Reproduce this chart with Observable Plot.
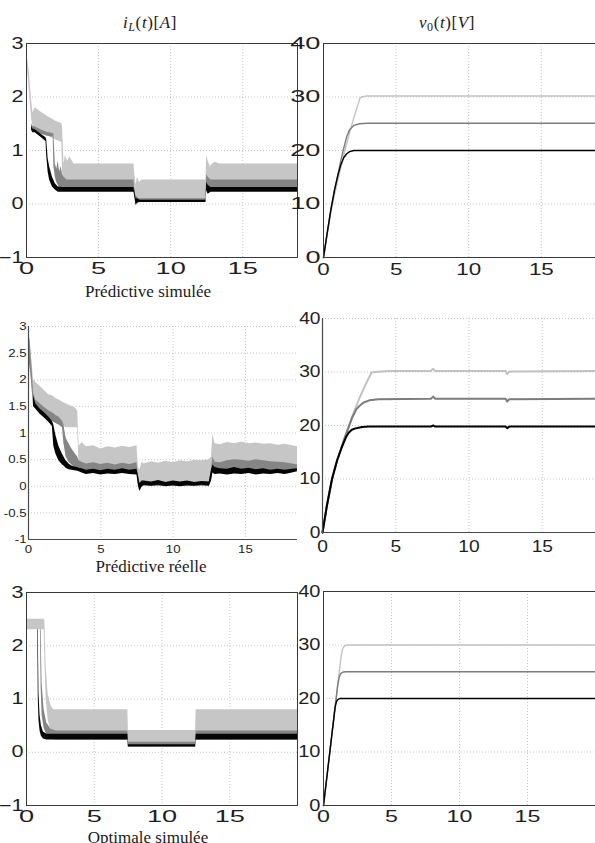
<!DOCTYPE html>
<html>
<head>
<meta charset="utf-8">
<script src="https://cdn.jsdelivr.net/npm/d3@7"></script>
<script src="https://cdn.jsdelivr.net/npm/@observablehq/plot@0.6"></script>
<style>
  body { margin: 0; background: #fff; }
  #fig { position: relative; width: 595px; height: 843px; overflow: hidden; background: #fff; }
  .panel { position: absolute; }
  .panel svg { overflow: visible; max-width: none; }
  .ttl, .lbl { position: absolute; white-space: nowrap; line-height: 1; color: #1a1a1a;
               font-family: "Liberation Serif", "Times New Roman", "DejaVu Serif", serif; transform: translateX(-50%); }
  .ttl { font-size: 17px; letter-spacing: 0.6px; }
  .lbl { font-size: 17px; }
  .ttl sub { font-size: 12px; vertical-align: -3px; }
</style>
</head>
<body>
<div id="fig"></div>
<script>
// ---------- axis ticks ----------
const ampTicks = [-1, 0, 1, 2, 3];
const ampTicksFine = [-1, -0.5, 0, 0.5, 1, 1.5, 2, 2.5, 3];
const voltTicks = [0, 10, 20, 30, 40];
const timeTicks = [0, 5, 10, 15];

// ---------- Prédictive simulée : inductor current bands (lower / upper ripple envelope) ----------
const simI30_t  = [0.02, 0.08, 0.2, 0.35, 0.45, 0.6, 1.0, 1.5, 2.0, 2.45, 2.5, 2.6, 2.7, 2.85, 3.0, 3.3, 7.45, 7.5, 7.6, 7.7, 7.85, 8.0, 8.3, 12.45, 12.5, 12.6, 12.75, 12.9, 13.1, 13.4, 18.8];
const simI30_lo = [1.0, 2.5, 2.1, 1.6, 1.45, 1.4, 1.33, 1.27, 1.2, 1.15, 0.6, 0.4, 0.3, 0.28, 0.27, 0.27, 0.27, 0.2, -0.05, 0.0, 0.05, 0.05, 0.05, 0.05, 0.3, 0.35, 0.25, 0.27, 0.27, 0.27, 0.27];
const simI30_hi = [1.0, 2.75, 2.45, 1.95, 1.7, 1.8, 1.72, 1.63, 1.55, 1.5, 1.45, 0.75, 0.9, 0.8, 0.88, 0.75, 0.75, 0.6, 0.35, 0.5, 0.4, 0.45, 0.45, 0.45, 0.9, 0.8, 0.7, 0.75, 0.78, 0.75, 0.75];

const simI25_t  = [0.35, 0.45, 0.6, 1.0, 1.4, 1.85, 1.9, 2.0, 2.1, 2.2, 2.3, 2.4, 2.5, 2.6, 2.8, 3.0, 7.45, 7.5, 7.6, 7.8, 8.0, 12.45, 12.5, 12.6, 12.8, 13.0, 18.8];
const simI25_lo = [1.42, 1.36, 1.36, 1.31, 1.27, 1.25, 0.7, 0.5, 0.4, 0.35, 0.3, 0.3, 0.28, 0.27, 0.27, 0.27, 0.27, 0.2, -0.02, 0.03, 0.05, 0.05, 0.3, 0.2, 0.25, 0.27, 0.27];
const simI25_hi = [1.5, 1.45, 1.44, 1.39, 1.34, 1.32, 1.3, 0.75, 0.65, 0.8, 0.6, 0.7, 0.55, 0.5, 0.45, 0.45, 0.45, 0.3, 0.15, 0.1, 0.1, 0.1, 0.55, 0.5, 0.45, 0.45, 0.45];

const simI20_t  = [0.35, 0.45, 0.6, 1.0, 1.35, 1.4, 1.5, 1.6, 1.8, 2.0, 2.2, 2.5, 7.45, 7.5, 7.6, 7.7, 7.9, 12.45, 12.5, 12.6, 12.8, 18.8];
const simI20_lo = [1.38, 1.33, 1.33, 1.25, 1.17, 0.9, 0.6, 0.45, 0.32, 0.26, 0.22, 0.22, 0.22, 0.15, -0.02, 0.02, 0.03, 0.03, 0.25, 0.18, 0.22, 0.22];
const simI20_hi = [1.45, 1.4, 1.39, 1.31, 1.24, 1.2, 0.85, 0.7, 0.5, 0.38, 0.32, 0.31, 0.31, 0.25, 0.1, 0.1, 0.07, 0.07, 0.4, 0.35, 0.31, 0.31];

// ---------- Prédictive simulée : output voltage ----------
const simV20_t = [0, 0.25, 0.5, 0.75, 1.0, 1.2, 1.4, 1.6, 1.8, 2.1, 2.5, 18.8];
const simV20_v = [0, 4.5, 8.8, 12.5, 15.5, 17.4, 18.7, 19.4, 19.8, 20.0, 20.0, 20.0];
const simV25_t = [0, 0.25, 0.5, 0.75, 1.0, 1.2, 1.4, 1.6, 1.8, 2.1, 2.5, 3.0, 18.8];
const simV25_v = [0, 4.5, 8.8, 12.5, 15.6, 18.2, 20.5, 22.6, 23.9, 24.7, 25.0, 25.1, 25.1];
const simV30_t = [0, 0.25, 0.5, 0.75, 1.0, 1.5, 2.0, 2.5, 2.6, 3.0, 18.8];
const simV30_v = [0, 4.2, 8.2, 11.6, 14.6, 20.3, 25.3, 29.7, 30.0, 30.2, 30.2];

// ---------- Prédictive réelle : measured current envelopes on a common time base ----------
const realT = [0.05, 0.1, 0.2, 0.35, 0.5, 0.8, 1.1, 1.4, 1.65, 1.75, 1.9, 2.1, 2.35, 2.45, 2.6, 2.8, 3.0, 3.2, 3.4,
               3.5, 3.7, 4.0, 4.5, 5.0, 5.5, 6.0, 6.5, 7.0, 7.5,
               7.6,
               7.7, 7.85, 8.0, 8.5, 9.0, 9.5, 10.0, 10.5, 11.0, 11.5, 12.0, 12.5,
               12.65,
               12.75, 12.9, 13.25, 13.75, 14.25, 14.75, 15.25, 15.75, 16.25, 16.75, 17.25, 17.75, 18.25, 18.6];
const realI30_lo = [2.0, 2.3, 2.0, 1.5, 1.45, 1.4, 1.35, 1.3, 1.27, 1.25, 1.22, 1.2, 1.15, 1.12, 1.1, 1.1, 1.1, 1.1, 1.1,
                    0.35, 0.3, 0.3, 0.3, 0.3, 0.3, 0.3, 0.3, 0.3, 0.3,
                    0.1,
                    0.0, 0.0, 0.0, 0.0, 0.0, 0.0, 0.0, 0.0, 0.0, 0.0, 0.0, 0.0,
                    0.1,
                    0.3, 0.3, 0.3, 0.3, 0.3, 0.3, 0.3, 0.3, 0.3, 0.3, 0.3, 0.3, 0.3, 0.3];
const realI30_hi = [2.8, 2.75, 2.45, 2.0, 1.95, 1.88, 1.8, 1.72, 1.7, 1.68, 1.65, 1.62, 1.58, 1.57, 1.55, 1.52, 1.5, 1.48, 1.42,
                    0.75, 0.82, 0.74, 0.76, 0.7, 0.74, 0.72, 0.75, 0.73, 0.76,
                    0.35,
                    0.3, 0.45, 0.42, 0.46, 0.43, 0.47, 0.44, 0.48, 0.46, 0.49, 0.48, 0.5,
                    0.55,
                    0.97, 0.8, 0.78, 0.82, 0.8, 0.83, 0.8, 0.81, 0.79, 0.8, 0.77, 0.79, 0.76, 0.74];
const realI25_lo = [2.0, 2.3, 2.0, 1.5, 1.45, 1.38, 1.32, 1.27, 1.22, 1.2, 1.18, 1.15, 1.1, 0.8, 0.55, 0.45, 0.4, 0.35, 0.32,
                    0.3, 0.28, 0.28, 0.27, 0.28, 0.27, 0.28, 0.27, 0.28, 0.27,
                    0.05,
                    -0.05, 0.0, 0.0, 0.0, 0.0, 0.0, 0.0, 0.0, 0.0, 0.0, 0.0, 0.0,
                    0.1,
                    0.3, 0.28, 0.28, 0.27, 0.28, 0.27, 0.28, 0.27, 0.28, 0.27, 0.28, 0.27, 0.28, 0.28];
const realI25_hi = [2.8, 2.75, 2.4, 1.75, 1.62, 1.55, 1.48, 1.42, 1.38, 1.36, 1.33, 1.3, 1.22, 1.15, 0.9, 0.8, 0.7, 0.62, 0.55,
                    0.48, 0.45, 0.42, 0.44, 0.41, 0.43, 0.4, 0.43, 0.41, 0.44,
                    0.2,
                    0.06, 0.08, 0.08, 0.07, 0.09, 0.07, 0.08, 0.07, 0.08, 0.07, 0.08, 0.07,
                    0.3,
                    0.55, 0.45, 0.44, 0.48, 0.5, 0.49, 0.47, 0.5, 0.48, 0.46, 0.45, 0.44, 0.42, 0.4];
const realI20_lo = [null, null, null, 1.5, 1.45, 1.35, 1.28, 1.2, 1.12, 0.75, 0.6, 0.48, 0.4, 0.38, 0.34, 0.31, 0.3, 0.29, 0.28,
                    0.27, 0.25, 0.22, 0.24, 0.21, 0.23, 0.22, 0.24, 0.22, 0.21,
                    0.0,
                    -0.1, -0.02, 0.02, 0.0, 0.02, -0.01, 0.01, -0.01, 0.01, 0.0, 0.02, 0.0,
                    0.1,
                    0.25, 0.22, 0.23, 0.21, 0.23, 0.22, 0.24, 0.21, 0.23, 0.22, 0.24, 0.22, 0.25, 0.27];
const realI20_hi = [null, null, null, 1.7, 1.55, 1.45, 1.38, 1.3, 1.22, 1.15, 0.95, 0.75, 0.6, 0.55, 0.48, 0.42, 0.38, 0.36, 0.35,
                    0.34, 0.33, 0.3, 0.32, 0.29, 0.32, 0.3, 0.33, 0.3, 0.32,
                    0.2,
                    0.05, 0.1, 0.1, 0.08, 0.11, 0.07, 0.1, 0.08, 0.1, 0.07, 0.09, 0.08,
                    0.3,
                    0.4, 0.35, 0.33, 0.32, 0.35, 0.32, 0.34, 0.31, 0.33, 0.3, 0.32, 0.3, 0.32, 0.33];

// ---------- Prédictive réelle : measured output voltage ----------
const realV30_t = [0, 0.3, 0.65, 1.0, 1.5, 2.0, 2.5, 3.0, 3.35, 3.6, 4.5, 7.4, 7.55, 7.7, 12.5, 12.6, 12.75, 18.7];
const realV30_v = [0, 5.0, 10.0, 13.5, 17.5, 21.5, 25.0, 28.0, 29.9, 30.0, 30.2, 30.2, 30.6, 30.2, 30.2, 29.6, 30.1, 30.2];
const realV25_t = [0, 0.3, 0.65, 1.0, 1.5, 2.0, 2.3, 2.5, 2.8, 3.2, 3.8, 7.4, 7.55, 7.7, 12.5, 12.6, 12.75, 18.7];
const realV25_v = [0, 5.0, 10.0, 13.5, 17.6, 21.3, 23.0, 23.6, 24.3, 24.7, 24.9, 25.0, 25.4, 25.0, 25.0, 24.5, 24.9, 25.0];
const realV20_t = [0, 0.3, 0.65, 1.0, 1.3, 1.6, 1.8, 2.0, 2.3, 2.7, 3.2, 7.4, 7.55, 7.7, 12.5, 12.6, 12.75, 18.7];
const realV20_v = [0, 5.0, 10.0, 13.5, 15.8, 17.8, 18.7, 19.2, 19.5, 19.7, 19.8, 19.8, 20.0, 19.8, 19.8, 19.5, 19.8, 19.8];

// ---------- Optimale simulée : inductor current bands ----------
const optI30_t  = [0, 0.02, 1.3, 1.35, 1.45, 1.6, 1.8, 2.0, 7.48, 7.52, 12.48, 12.52, 20];
const optI30_lo = [1.0, 2.3, 2.3, 1.8, 1.0, 0.6, 0.4, 0.3, 0.23, 0.1, 0.1, 0.23, 0.23];
const optI30_hi = [1.0, 2.5, 2.5, 2.5, 1.6, 1.1, 0.88, 0.8, 0.8, 0.41, 0.41, 0.8, 0.8];
const optI25_t  = [1.03, 1.08, 1.15, 1.3, 1.5, 1.8, 2.2, 7.48, 7.52, 12.48, 12.52, 20];
const optI25_lo = [2.28, 1.2, 0.7, 0.45, 0.32, 0.25, 0.23, 0.23, 0.1, 0.1, 0.23, 0.23];
const optI25_hi = [2.3, 2.3, 1.3, 0.8, 0.55, 0.43, 0.4, 0.4, 0.19, 0.19, 0.4, 0.4];
const optI20_t  = [0.83, 0.87, 0.92, 1.0, 1.1, 1.25, 1.5, 7.48, 7.52, 12.48, 12.52, 20];
const optI20_lo = [2.28, 1.0, 0.6, 0.4, 0.3, 0.25, 0.23, 0.23, 0.1, 0.1, 0.23, 0.23];
const optI20_hi = [2.3, 2.3, 1.1, 0.7, 0.5, 0.38, 0.34, 0.34, 0.14, 0.14, 0.34, 0.34];

// ---------- Optimale simulée : output voltage ----------
const optV20_t = [0, 0.85, 0.95, 1.05, 1.2, 1.4, 20];
const optV20_v = [0, 18.3, 19.4, 19.8, 20.0, 20.0, 20.0];
const optV25_t = [0, 1.05, 1.15, 1.25, 1.4, 1.6, 20];
const optV25_v = [0, 22.6, 23.9, 24.6, 24.9, 25.0, 25.0];
const optV30_t = [0, 1.3, 1.4, 1.5, 1.65, 1.9, 20];
const optV30_v = [0, 28.0, 29.2, 29.7, 29.95, 30.0, 30.0];

// ---------- palette for the three reference voltages ----------
const shade = { v30: "#c6c6c6", v25: "#858585", v20: "#050505" };
const lineShade = { v30: "#c2c2c2", v25: "#7c7c7c", v20: "#000000" };

// ---------- helpers ----------
const band = (t, lo, hi) => t.map((x, i) => ({ t: x, lo: lo[i], hi: hi[i] }));
const trace = (t, v) => t.map((x, i) => ({ t: x, v: v[i] }));
const minusFmt = d => (d < 0 ? "\u2212" : "") + Math.abs(d);
const hyphenFmt = d => (d < 0 ? "-" : "") + Math.abs(d);

const fig = document.getElementById("fig");

function bandMarks(series) {
  return series.map(([data, fill]) =>
    Plot.areaY(data, { x: "t", y1: "lo", y2: "hi", fill, curve: "linear" }));
}
function lineMarks(series, strokeWidth) {
  return series.map(([data, stroke]) =>
    Plot.line(data, { x: "t", y: "v", stroke, strokeWidth, curve: "linear" }));
}

// widen the tick labels horizontally about their anchor point
function stretchTicks(svg, axis, s) {
  if (s === 1) return;
  svg.querySelectorAll(`[aria-label^="${axis}-axis"] text`).forEach(el => {
    const X = +(el.getAttribute("x") || 0);
    const tr = el.getAttribute("transform") || "";
    el.setAttribute("transform", `${tr} translate(${X},0) scale(${s},1) translate(${-X},0)`);
  });
}

function panel(cfg) {
  const { frame: f, pad, xDomain, yDomain, yTicks, box, font, sx, sy, fmt, xPad, yPad, marks } = cfg;
  const width = f.r - f.l + pad.l + pad.r;
  const height = f.b - f.t + pad.t + pad.b;
  const gridStyle = { stroke: "#b8b8b8", strokeWidth: 0.8, strokeDasharray: "1,2" };
  const xGrid = timeTicks.filter(d => d > xDomain[0] && d < xDomain[1]);
  const yGrid = yTicks.filter(d => d > yDomain[0] && (box ? d < yDomain[1] : true));
  const edges = box
    ? [Plot.frame({ stroke: "#3a3a3a", strokeWidth: 1 })]
    : [Plot.ruleX([xDomain[0]], { stroke: "#4a4a4a", strokeWidth: 1.2 }),
       Plot.ruleY([yDomain[0]], { stroke: "#4a4a4a", strokeWidth: 1.2 })];
  const svg = Plot.plot({
    width, height,
    marginLeft: pad.l, marginRight: pad.r, marginTop: pad.t, marginBottom: pad.b,
    x: { domain: xDomain, ticks: timeTicks, tickFormat: fmt, tickSize: 0, tickPadding: xPad, label: null },
    y: { domain: yDomain, ticks: yTicks, tickFormat: fmt, tickSize: 0, tickPadding: yPad, label: null },
    style: { background: "transparent", fontFamily: '"Liberation Sans", Arial, sans-serif',
             fontSize: font + "px", color: "#1e1e1e", overflow: "visible" },
    marks: [
      Plot.ruleX(xGrid, gridStyle),
      Plot.ruleY(yGrid, gridStyle),
      ...marks,
      ...edges
    ]
  });
  stretchTicks(svg, "x", sx);
  stretchTicks(svg, "y", sy);
  const div = document.createElement("div");
  div.className = "panel";
  div.style.left = (f.l - pad.l) + "px";
  div.style.top = (f.t - pad.t) + "px";
  div.style.width = width + "px";
  div.appendChild(svg);
  fig.appendChild(div);
}

const pad = { l: 26, t: 12, r: 2, b: 28 };

// Prédictive simulée — current
panel({
  frame: { l: 26, t: 43, r: 297, b: 257 }, pad,
  xDomain: [0, 18.8], yDomain: [-1, 3], yTicks: ampTicks, box: true,
  font: 16, sx: 1.7, sy: 1.35, fmt: minusFmt, xPad: 5, yPad: 3,
  marks: bandMarks([
    [band(simI30_t, simI30_lo, simI30_hi), shade.v30],
    [band(simI25_t, simI25_lo, simI25_hi), shade.v25],
    [band(simI20_t, simI20_lo, simI20_hi), shade.v20]
  ])
});

// Prédictive simulée — voltage
panel({
  frame: { l: 323, t: 43, r: 596, b: 257 }, pad,
  xDomain: [0, 18.8], yDomain: [0, 40], yTicks: voltTicks, box: true,
  font: 16, sx: 1.4, sy: 1.7, fmt: minusFmt, xPad: 6, yPad: 3,
  marks: lineMarks([
    [trace(simV30_t, simV30_v), lineShade.v30],
    [trace(simV25_t, simV25_v), lineShade.v25],
    [trace(simV20_t, simV20_v), lineShade.v20]
  ], 1.4)
});

// Prédictive réelle — current
panel({
  frame: { l: 28, t: 326, r: 297, b: 539 }, pad,
  xDomain: [0, 18.6], yDomain: [-1, 3], yTicks: ampTicksFine, box: false,
  font: 11.5, sx: 1.15, sy: 1.15, fmt: hyphenFmt, xPad: 5, yPad: 2,
  marks: bandMarks([
    [band(realT, realI30_lo, realI30_hi), shade.v30],
    [band(realT, realI25_lo, realI25_hi), shade.v25],
    [band(realT, realI20_lo, realI20_hi), shade.v20]
  ])
});

// Prédictive réelle — voltage
panel({
  frame: { l: 322, t: 318, r: 596, b: 532 }, pad,
  xDomain: [0, 18.7], yDomain: [0, 40], yTicks: voltTicks, box: false,
  font: 16, sx: 1.2, sy: 1.2, fmt: minusFmt, xPad: 8, yPad: 2,
  marks: lineMarks([
    [trace(realV30_t, realV30_v), lineShade.v30],
    [trace(realV25_t, realV25_v), lineShade.v25],
    [trace(realV20_t, realV20_v), lineShade.v20]
  ], 2)
});

// Optimale simulée — current
panel({
  frame: { l: 26, t: 592, r: 297, b: 805 }, pad,
  xDomain: [0, 20], yDomain: [-1, 3], yTicks: ampTicks, box: true,
  font: 16, sx: 1.7, sy: 1.35, fmt: minusFmt, xPad: 5, yPad: 3,
  marks: bandMarks([
    [band(optI30_t, optI30_lo, optI30_hi), shade.v30],
    [band(optI25_t, optI25_lo, optI25_hi), shade.v25],
    [band(optI20_t, optI20_lo, optI20_hi), shade.v20]
  ])
});

// Optimale simulée — voltage
panel({
  frame: { l: 323, t: 591, r: 595, b: 805 }, pad,
  xDomain: [0, 20], yDomain: [0, 40], yTicks: voltTicks, box: true,
  font: 16, sx: 1.45, sy: 1.25, fmt: minusFmt, xPad: 5, yPad: 3,
  marks: lineMarks([
    [trace(optV30_t, optV30_v), lineShade.v30],
    [trace(optV25_t, optV25_v), lineShade.v25],
    [trace(optV20_t, optV20_v), lineShade.v20]
  ], 1.4)
});

// column titles and row captions
function label(cls, html, x, y) {
  const d = document.createElement("div");
  d.className = cls;
  d.innerHTML = html;
  d.style.left = x + "px";
  d.style.top = y + "px";
  fig.appendChild(d);
}
label("ttl", "<i>i</i><sub><i>L</i></sub>(<i>t</i>)[<i>A</i>]", 150, 14);
label("ttl", "<i>v</i><sub>0</sub>(<i>t</i>)[<i>V</i>]", 447, 14);
label("lbl", "Prédictive simulée", 148, 283);
label("lbl", "Prédictive réelle", 151, 558);
label("lbl", "Optimale simulée", 148, 829);
</script>
</body>
</html>
